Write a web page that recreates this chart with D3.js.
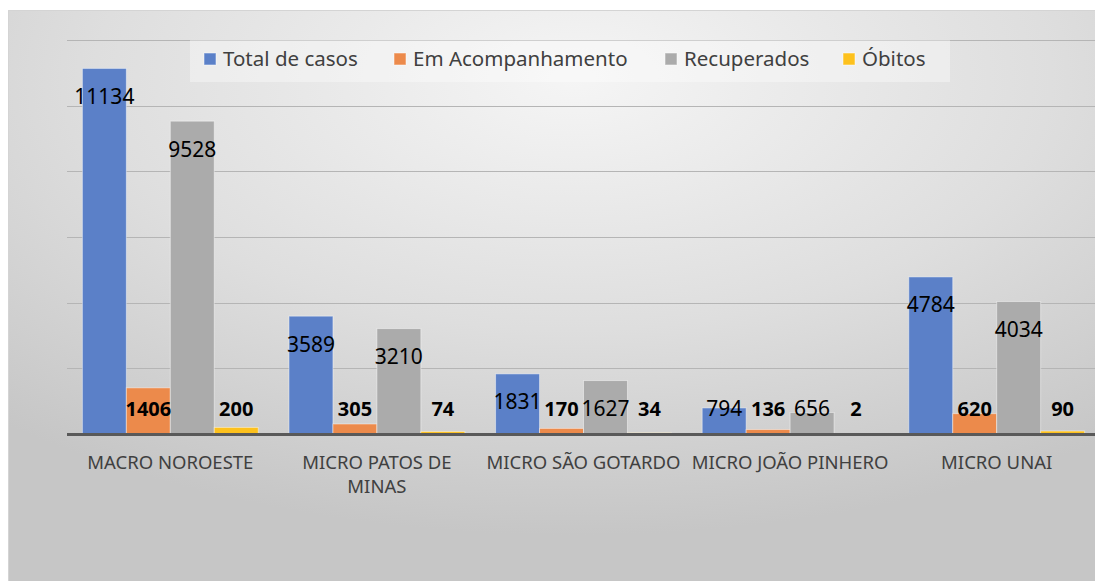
<!DOCTYPE html>
<html>
<head>
<meta charset="utf-8">
<script src="https://cdn.jsdelivr.net/npm/d3@7"></script>
<style>
  body { margin: 0; background: #fff; }
  svg { display: block; font-family: "Noto Sans", "Open Sans", sans-serif; }
</style>
</head>
<body>
<script>
// data
const categories = ["MACRO NOROESTE", "MICRO PATOS DE MINAS", "MICRO SÃO GOTARDO", "MICRO JOÃO PINHERO", "MICRO UNAI"];
const seriesNames = ["Total de casos", "Em Acompanhamento", "Recuperados", "Óbitos"];
const totalCasos = [11134, 3589, 1831, 794, 4784];
const emAcomp = [1406, 305, 170, 136, 620];
const recuperados = [9528, 3210, 1627, 656, 4034];
const obitos = [200, 74, 34, 2, 90];
const yTicks = [0, 2000, 4000, 6000, 8000, 10000, 12000];

const colors = ["#5b80c8", "#ec8a4b", "#ababab", "#fdc11d"];
const allSeries = [totalCasos, emAcomp, recuperados, obitos];
const boldSeries = [false, true, false, true];

const width = 1095, height = 581;
const plot = {left: 67, right: 1100, top: 40, bottom: 434};

const svg = d3.select("body").append("svg")
    .attr("width", width)
    .attr("height", height);

// background gradient
const defs = svg.append("defs");
const grad = defs.append("radialGradient")
    .attr("id", "bg")
    .attr("cx", "52%").attr("cy", "12%")
    .attr("r", "80%")
    .attr("gradientUnits", "objectBoundingBox");
grad.append("stop").attr("offset", "0%").attr("stop-color", "#f5f5f5");
grad.append("stop").attr("offset", "55%").attr("stop-color", "#dedede");
grad.append("stop").attr("offset", "100%").attr("stop-color", "#c6c6c6");

svg.append("rect")
    .attr("x", 8).attr("y", 10)
    .attr("width", width - 8).attr("height", height - 10)
    .attr("fill", "url(#bg)");
svg.append("path")
    .attr("d", `M8.5,${height}V10.5H${width}`)
    .attr("fill", "none")
    .attr("stroke", "#d4d4d4");

// scales
let x0 = d3.scaleBand().domain(categories).range([plot.left, plot.right]).padding(0);
let x1 = d3.scaleBand().domain(seriesNames).range([0, x0.bandwidth()]).paddingInner(0).paddingOuter(0.35);
let y = d3.scaleLinear().domain([0, 12000]).range([plot.bottom, plot.top]);

// gridlines
svg.append("g")
    .selectAll("line")
    .data(yTicks.slice(1))
    .enter().append("line")
    .attr("x1", plot.left).attr("x2", plot.right)
    .attr("y1", d => Math.round(y(d)) + 0.5)
    .attr("y2", d => Math.round(y(d)) + 0.5)
    .attr("stroke", "#b5b5b5")
    .attr("stroke-width", 1);

// legend box
const legend = svg.append("g");
legend.append("rect")
    .attr("x", 190).attr("y", 40)
    .attr("width", 760).attr("height", 42)
    .attr("fill", "#ffffff")
    .attr("fill-opacity", 0.35);

const legendX = [204, 394, 665, 843];
seriesNames.forEach((name, i) => {
    legend.append("rect")
        .attr("x", legendX[i]).attr("y", 53)
        .attr("width", 12).attr("height", 12)
        .attr("fill", colors[i])
        .attr("stroke", "#ffffff").attr("stroke-opacity", 0.5);
    legend.append("text")
        .attr("x", legendX[i] + 19).attr("y", 59)
        .attr("dy", "0.35em")
        .attr("font-size", 20.5)
        .attr("fill", "#404040")
        .text(name);
});

// bars
const groups = svg.append("g")
    .selectAll("g")
    .data(categories)
    .enter().append("g")
    .attr("transform", d => `translate(${x0(d)},0)`);

groups.selectAll("rect")
    .data((d, ci) => seriesNames.map((s, si) => ({s, si, v: allSeries[si][ci]})))
    .enter().append("rect")
    .attr("x", d => x1(d.s))
    .attr("y", d => y(d.v))
    .attr("width", x1.bandwidth())
    .attr("height", d => plot.bottom - y(d.v))
    .attr("fill", d => colors[d.si])
    .attr("stroke", "#ffffff")
    .attr("stroke-opacity", 0.45)
    .attr("stroke-width", 1);

// baseline
svg.append("line")
    .attr("x1", plot.left).attr("x2", plot.right)
    .attr("y1", plot.bottom + 0.5).attr("y2", plot.bottom + 0.5)
    .attr("stroke", "#595959")
    .attr("stroke-width", 3);

// data labels
groups.selectAll("text.val")
    .data((d, ci) => seriesNames.map((s, si) => ({s, si, v: allSeries[si][ci]})))
    .enter().append("text")
    .attr("class", "val")
    .attr("x", d => x1(d.s) + x1.bandwidth() / 2)
    .attr("y", d => boldSeries[d.si] ? 409 : Math.min(y(d.v) + 28, 409))
    .attr("dy", "0.35em")
    .attr("text-anchor", "middle")
    .attr("font-size", d => boldSeries[d.si] ? 20 : 21)
    .attr("font-weight", d => boldSeries[d.si] ? "bold" : "normal")
    .attr("fill", "#000")
    .text(d => d.v);

// category labels, wrapped to band width
const xAxis = svg.append("g");
categories.forEach(cat => {
    const cx = x0(cat) + x0.bandwidth() / 2;
    const t = xAxis.append("text")
        .attr("x", cx)
        .attr("y", 463)
        .attr("text-anchor", "middle")
        .attr("font-size", 18.5)
        .attr("fill", "#404040");
    const words = cat.split(" ");
    let line = [];
    let tspan = t.append("tspan").attr("x", cx).attr("dy", "0.35em");
    words.forEach(w => {
        line.push(w);
        tspan.text(line.join(" "));
        if (tspan.node().getComputedTextLength() > x0.bandwidth() - 2 && line.length > 1) {
            line.pop();
            tspan.text(line.join(" "));
            line = [w];
            tspan = t.append("tspan").attr("x", cx).attr("dy", "24").text(w);
        }
    });
});
</script>
</body>
</html>
